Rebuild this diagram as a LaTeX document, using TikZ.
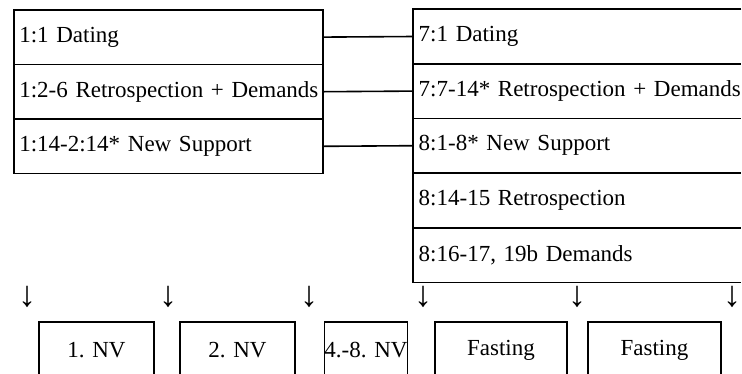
\documentclass[tikz,border=0pt]{standalone}
\usepackage{fontspec}
\setmainfont{Liberation Serif}
\begin{document}
\begin{tikzpicture}[x=1pt,y=-1pt,
  every node/.style={font=\fontsize{23}{27}\selectfont},
  rowbox/.style={anchor=north west,inner xsep=5.5pt,inner ysep=0pt,
    minimum height=54.6pt,align=left},
  lrow/.style={rowbox,draw,line width=1.6pt,text width=298pt},
  rrow/.style={rowbox,text width=317pt},
  nvbox/.style={draw,line width=1.6pt,inner sep=0pt,minimum height=56pt},
  arr/.style={inner sep=0pt,font=\fontsize{36}{40}\selectfont},
  conn/.style={line width=1.6pt}]
\useasboundingbox (0,0) rectangle (742,373);
\clip (0,0) rectangle (742,373);
% left table
\node[lrow] (l1) at (13,9) {\mbox{1:1 Dating}};
\node[lrow] (l2) at (13,63.6) {\mbox{1:2-6 Retrospection + Demands}};
\node[lrow] (l3) at (13,118.2) {\mbox{1:14-2:14* New Support}};
% right table (its right edge lies beyond the picture)
\node[rrow] (r1) at (413,9) {\mbox{7:1 Dating}};
\node[rrow] (r2) at (413,63.6) {\mbox{7:7-14* Retrospection + Demands}};
\node[rrow] (r3) at (413,118.2) {\mbox{8:1-8* New Support}};
\node[rrow] (r4) at (413,172.8) {\mbox{8:14-15 Retrospection}};
\node[rrow] (r5) at (413,227.4) {\mbox{8:16-17, 19b Demands}};
\draw[conn] (r1.north east) -- (r1.north west) -- (r5.south west) -- (r5.south east);
\draw[conn] (r1.south west) -- (r1.south east);
\draw[conn] (r2.south west) -- (r2.south east);
\draw[conn] (r3.south west) -- (r3.south east);
\draw[conn] (r4.south west) -- (r4.south east);
% connectors
\draw[conn] (l1.east) -- (r1.west);
\draw[conn] (l2.east) -- (r2.west);
\draw[conn] (l3.east) -- (r3.west);
% arrows
\node[arr] (a1) at (27,297) {↓};
\node[arr] (a2) at (168,297) {↓};
\node[arr] (a3) at (309,297) {↓};
\node[arr] (a4) at (423,297) {↓};
\node[arr] (a5) at (577,297) {↓};
\node[arr] (a6) at (732,297) {↓};
% bottom boxes
\node[nvbox,minimum width=115pt] (b1) at (96.5,350) {1. NV};
\node[nvbox,minimum width=115pt] (b2) at (237.5,350) {2. NV};
\node[nvbox,minimum width=82pt] (b3) at (366,350) {4.-8. NV};
\node[nvbox,minimum width=132pt] (b4) at (501,350) {Fasting};
\node[nvbox,minimum width=133pt] (b5) at (654.5,350) {Fasting};
\end{tikzpicture}
\end{document}
